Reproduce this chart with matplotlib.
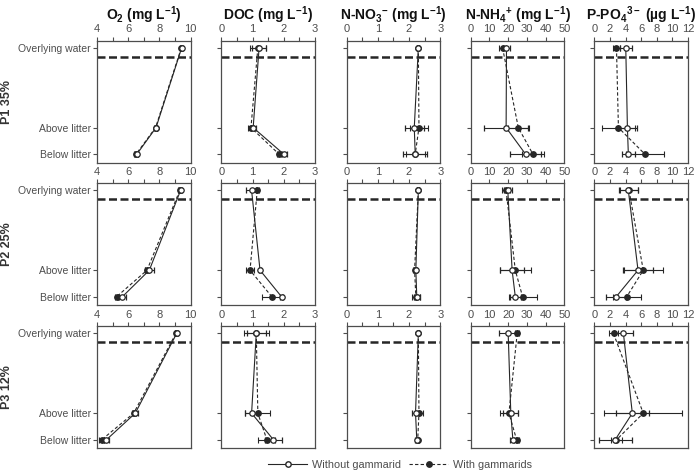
import matplotlib.pyplot as plt
from matplotlib.lines import Line2D

plt.rcParams['font.family'] = ['Liberation Sans', 'DejaVu Sans']
plt.rcParams['mathtext.default'] = 'regular'

# sampling positions (top to bottom) and site rows
positions = ['Overlying water', 'Above litter', 'Below litter']
depth = [4.0, 1.0, 0.0]
sites = ['P1 35%', 'P2 25%', 'P3 12%']
interface = 3.67

# each list: rows P1, P2, P3; values: overlying, above litter, below litter
o2_without = [[9.42, 7.78, 6.55], [9.35, 7.35, 5.62], [9.10, 6.45, 4.60]]
o2_without_err = [[0.06, 0.08, 0.10], [0.10, 0.30, 0.22], [0.08, 0.15, 0.15]]
o2_with = [[9.40, 7.75, 6.50], [9.30, 7.20, 5.25], [9.05, 6.35, 4.30]]
o2_with_err = [[0.06, 0.08, 0.10], [0.10, 0.15, 0.12], [0.08, 0.12, 0.15]]

doc_without = [[1.21, 1.02, 2.00], [0.97, 1.24, 1.93], [1.12, 0.97, 1.67]]
doc_without_err = [[0.22, 0.08, 0.10], [0.17, 0.03, 0.05], [0.30, 0.20, 0.27]]
doc_with = [[1.17, 0.95, 1.85], [1.15, 0.92, 1.62], [1.12, 1.17, 1.46]]
doc_with_err = [[0.25, 0.10, 0.08], [0.05, 0.12, 0.32], [0.40, 0.40, 0.27]]

no3_without = [[2.30, 2.17, 2.20], [2.30, 2.22, 2.25], [2.30, 2.21, 2.25]]
no3_without_err = [[0.03, 0.30, 0.38], [0.03, 0.05, 0.10], [0.02, 0.12, 0.05]]
no3_with = [[2.30, 2.32, 2.20], [2.30, 2.18, 2.22], [2.30, 2.32, 2.28]]
no3_with_err = [[0.03, 0.30, 0.30], [0.03, 0.05, 0.12], [0.02, 0.12, 0.05]]

nh4_without = [[19.1, 18.9, 29.3], [19.8, 22.1, 23.8], [20.0, 21.4, 22.5]]
nh4_without_err = [[2.0, 11.8, 8.4], [2.0, 6.6, 2.9], [4.8, 4.0, 1.5]]
nh4_with = [[17.0, 25.4, 33.2], [18.9, 23.8, 27.7], [24.8, 20.4, 24.5]]
nh4_with_err = [[2.0, 5.7, 6.0], [2.0, 8.3, 7.5], [1.0, 5.0, 1.2]]

po4_without = [[4.03, 4.24, 4.36], [4.36, 5.60, 2.80], [3.73, 4.87, 2.67]]
po4_without_err = [[0.75, 1.20, 0.85], [1.20, 1.90, 1.30], [1.20, 2.15, 2.10]]
po4_with = [[2.84, 3.09, 6.48], [4.45, 6.27, 4.15], [2.46, 6.27, 2.84]]
po4_with_err = [[0.50, 2.16, 2.40], [1.10, 2.50, 1.80], [0.55, 5.00, 0.70]]

titles = ['O$_2$ (mg L$^{-1}$)', 'DOC (mg L$^{-1}$)', 'N-NO$_3$$^{-}$ (mg L$^{-1}$)',
          'N-NH$_4$$^{+}$ (mg L$^{-1}$)', 'P-PO$_4$$^{3-}$ (\u00b5g L$^{-1}$)']
xlims = [(4, 10), (0, 3), (0, 3), (0, 50), (0, 12)]
xlabels = [[4, 6, 8, 10], [0, 1, 2, 3], [0, 1, 2, 3],
           [0, 10, 20, 30, 40, 50], [0, 2, 4, 6, 8, 10, 12]]
xminor = [[4, 5, 6, 7, 8, 9, 10], [0, 0.5, 1, 1.5, 2, 2.5, 3], [0, 0.5, 1, 1.5, 2, 2.5, 3],
          [0, 10, 20, 30, 40, 50], [0, 2, 4, 6, 8, 10, 12]]

variables = [
    (o2_without, o2_without_err, o2_with, o2_with_err),
    (doc_without, doc_without_err, doc_with, doc_with_err),
    (no3_without, no3_without_err, no3_with, no3_with_err),
    (nh4_without, nh4_without_err, nh4_with, nh4_with_err),
    (po4_without, po4_without_err, po4_with, po4_with_err),
]

W, H = 696, 472
lefts = [97, 221.3, 346.5, 470.7, 594.3]
tops = [40.7, 183.3, 326.3]
aw, ah = 93.7, 122.0
ink = '#262626'
grey = '#4d4d4d'
ms = 3.9

fig = plt.figure(figsize=(W / 100, H / 100), dpi=100)

for r in range(3):
    for c, (wo, wo_err, wi, wi_err) in enumerate(variables):
        ax = fig.add_axes([lefts[c] / W, 1 - (tops[r] + ah) / H, aw / W, ah / H])
        ax.errorbar(wi[r], depth, xerr=wi_err[r], color=ink, ls=(0, (3, 2)), lw=0.8,
                    marker='o', ms=ms, mfc=ink, mec=ink, capsize=2.5,
                    elinewidth=0.8, capthick=0.8, zorder=3)
        ax.errorbar(wo[r], depth, xerr=wo_err[r], color=ink, ls='-', lw=0.8,
                    marker='o', ms=ms, mfc='white', mec=ink, mew=0.9, capsize=2.5,
                    elinewidth=0.8, capthick=0.8, zorder=4)
        ax.axhline(interface, color=ink, lw=1.8, ls=(0, (3.2, 1.4)), zorder=2)

        ax.set_xlim(*xlims[c])
        ax.set_ylim(-0.32, 4.27)
        ax.xaxis.tick_top()
        ax.set_xticks(xlabels[c])
        ax.set_xticks(xminor[c], minor=True)
        ax.set_yticks(depth)
        if c == 0:
            ax.set_yticklabels(positions)
        else:
            ax.set_yticklabels([])
        ax.tick_params(which='both', direction='out', length=3, width=0.8,
                       colors=grey, labelsize=7.5, pad=1.5)
        ax.tick_params(axis='x', labelsize=8)
        for s in ax.spines.values():
            s.set_color(grey)
            s.set_linewidth(0.9)

        if r == 0:
            fig.text((lefts[c] + aw / 2) / W, 1 - 4 / H, titles[c], ha='center',
                     va='top', fontsize=10, fontweight='bold', color='#111111')
    fig.text(7 / W, 1 - (tops[r] + ah / 2) / H, sites[r], rotation=90, ha='center',
             va='center', fontsize=9, fontweight='bold', color='#333333')

handles = [
    Line2D([], [], color=ink, lw=0.8, ls='-', marker='o', ms=ms, mfc='white', mec=ink),
    Line2D([], [], color=ink, lw=0.8, ls=(0, (3, 2)), marker='o', ms=ms, mfc=ink, mec=ink),
]
leg = fig.legend(handles, ['Without gammarid', 'With gammarids'], loc='center',
                 bbox_to_anchor=(400 / W, 1 - 465 / H), ncol=2, frameon=False,
                 fontsize=7.8, handlelength=3.6, columnspacing=0.8, handletextpad=0.4)
for t in leg.get_texts():
    t.set_color(grey)

fig.savefig('out.png', dpi=100)
